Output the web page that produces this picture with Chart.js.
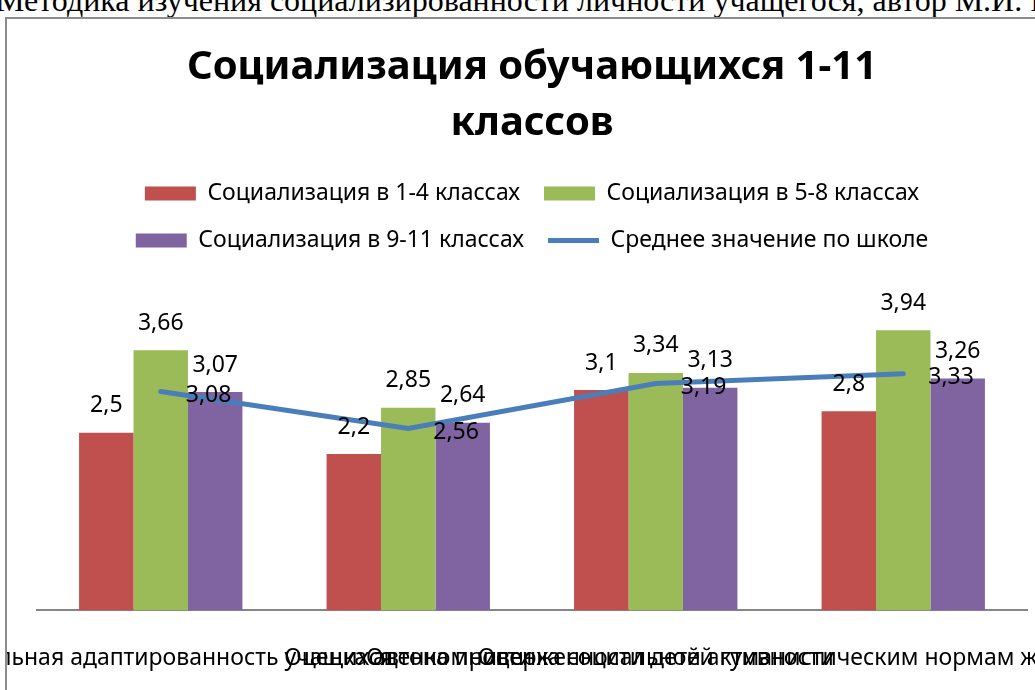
<!DOCTYPE html>
<html lang="ru">
<head>
<meta charset="utf-8">
<title>Социализация обучающихся 1-11 классов</title>
<script src="https://cdn.jsdelivr.net/npm/chart.js@4.4.1/dist/chart.umd.min.js"></script>
<style>
  html, body { margin: 0; padding: 0; background: #fff; overflow: hidden; width: 1035px; height: 690px; }
  .caption {
    position: absolute; left: -4px; top: -18px; white-space: nowrap;
    font: 32px 'Liberation Serif', 'Times New Roman', serif; color: #000;
  }
  .frame {
    position: absolute; left: 5px; top: 17px; width: 1040px; height: 710px;
    border-left: 2px solid #8c8c8c; border-top: 2px solid #8c8c8c; overflow: hidden;
  }
  canvas { display: block; }
</style>
</head>
<body>
<div class="caption">Методика изучения социализированности личности учащегося, автор М.И. Рожков</div>
<div class="frame"><canvas id="chart" width="1036" height="706"></canvas></div>
<script>
// data
const categories = [
  'Социальная адаптированность учащихся',
  'Оценка автономности',
  'Оценка социальной активности',
  'Оценка приверженности детей гуманистическим нормам жизнедеятельности (нравственность)'
];
const grades14 = [2.5, 2.2, 3.1, 2.8];
const grades58 = [3.66, 2.85, 3.34, 3.94];
const grades911 = [3.07, 2.64, 3.13, 3.26];
const schoolAvg = [3.08, 2.56, 3.19, 3.33];

const FONT = "'Noto Sans', 'Open Sans', sans-serif";
const fmt = v => String(v).replace('.', ',');

// value labels: above the bars, to the right of the line points
const valueLabels = {
  id: 'valueLabels',
  afterDatasetsDraw(chart) {
    const ctx = chart.ctx;
    ctx.save();
    ctx.fillStyle = '#000';
    ctx.font = '23px ' + FONT;
    ctx.textBaseline = 'middle';
    chart.data.datasets.forEach((ds, di) => {
      const meta = chart.getDatasetMeta(di);
      meta.data.forEach((el, i) => {
        if (ds.type === 'line') {
          ctx.textAlign = 'left';
          ctx.fillText(fmt(ds.data[i]), el.x + 25, el.y + 4);
        } else {
          ctx.textAlign = 'center';
          ctx.fillText(fmt(ds.data[i]), el.x, el.y - 27);
        }
      });
    });
    ctx.restore();
  }
};

new Chart(document.getElementById('chart'), {
  type: 'bar',
  data: {
    labels: categories,
    datasets: [
      { label: 'Социализация в 1-4 классах', data: grades14, backgroundColor: '#C0504D', borderWidth: 0, pointStyle: 'rect', order: 1 },
      { label: 'Социализация в 5-8 классах', data: grades58, backgroundColor: '#9BBB59', borderWidth: 0, pointStyle: 'rect', order: 1 },
      { label: 'Социализация в 9-11 классах', data: grades911, backgroundColor: '#8064A2', borderWidth: 0, pointStyle: 'rect', order: 1 },
      {
        type: 'line', label: 'Среднее значение по школе', data: schoolAvg,
        borderColor: '#4A7EBB', backgroundColor: '#4A7EBB', borderWidth: 5,
        borderCapStyle: 'round', pointRadius: 0, pointStyle: 'line', tension: 0, order: 0
      }
    ]
  },
  options: {
    responsive: false,
    animation: false,
    devicePixelRatio: 1,
    categoryPercentage: 0.66,
    barPercentage: 1,
    layout: { autoPadding: false, padding: { left: 30, right: 16, top: 0, bottom: 19 } },
    plugins: {
      title: {
        display: true,
        text: ['Социализация обучающихся 1-11', 'классов'],
        color: '#000',
        font: { family: FONT, size: 40, weight: 'bold', lineHeight: 1.4 },
        padding: { top: 21, bottom: 6 }
      },
      legend: {
        position: 'top',
        labels: {
          color: '#000',
          font: { family: FONT, size: 23 },
          usePointStyle: true,
          pointStyleWidth: 51,
          boxHeight: 14,
          padding: 24,
          sort: (a, b) => a.datasetIndex - b.datasetIndex
        }
      },
      tooltip: { enabled: false }
    },
    scales: {
      x: {
        grid: { display: false, drawTicks: false },
        border: { display: true, color: '#868686', width: 2 },
        ticks: { color: '#000', font: { family: FONT, size: 23 }, autoSkip: false, maxRotation: 0, minRotation: 0, padding: 34 },
        // long overlapping labels must not squeeze the plot area
        afterFit(scale) { scale.paddingLeft = 0; scale.paddingRight = 0; }
      },
      y: { display: false, min: 0, max: 4.9 }
    }
  },
  plugins: [valueLabels]
});
</script>
</body>
</html>
